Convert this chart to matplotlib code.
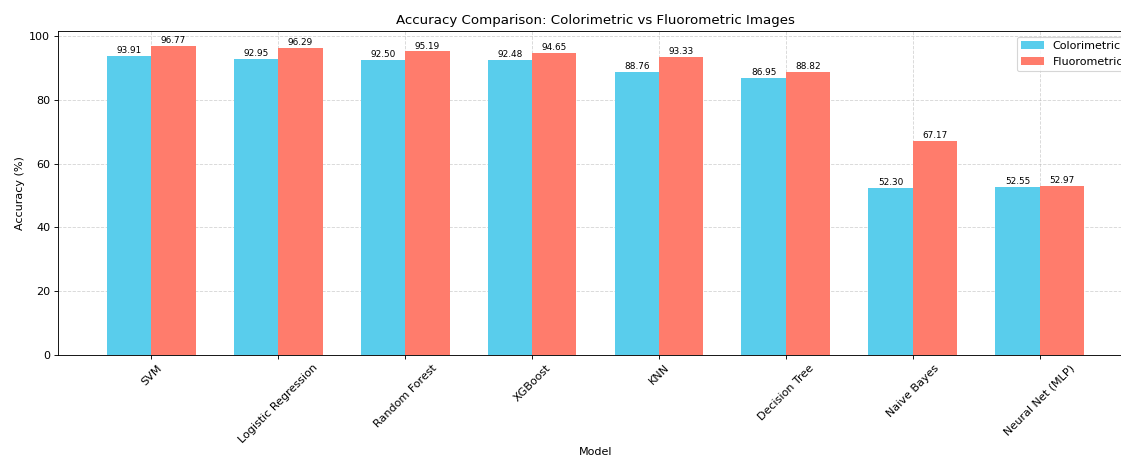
import numpy as np
import matplotlib.pyplot as plt

models = ['SVM', 'Logistic Regression', 'Random Forest', 'XGBoost', 'KNN',
          'Decision Tree', 'Naive Bayes', 'Neural Net (MLP)']
colorimetric = [93.91, 92.95, 92.50, 92.48, 88.76, 86.95, 52.30, 52.55]
fluorometric = [96.77, 96.29, 95.19, 94.65, 93.33, 88.82, 67.17, 52.97]

x = np.arange(len(models))
width = 0.35

fig = plt.figure(figsize=(1121 / 80, 457 / 80), dpi=80)
ax = fig.add_axes([58 / 1121, 1 - 355 / 457, (1133 - 58) / 1121, 324 / 457])

b1 = ax.bar(x - width / 2, colorimetric, width, label='Colorimetric', color='#59cdec')
b2 = ax.bar(x + width / 2, fluorometric, width, label='Fluorometric', color='#ff7c6c')

for bars in (b1, b2):
    for bar in bars:
        h = bar.get_height()
        ax.text(bar.get_x() + bar.get_width() / 2, h + 0.3, f'{h:.2f}',
                ha='center', va='bottom', fontsize=8)

ax.set_xticks(x)
ax.set_xticklabels(models, rotation=45)
ax.set_xlabel('Model', labelpad=1)
ax.set_ylabel('Accuracy (%)')
ax.set_title('Accuracy Comparison: Colorimetric vs Fluorometric Images')
ax.legend(loc='upper right')
ax.grid(True, linestyle='--', alpha=0.5)
ax.set_axisbelow(True)

fig.savefig('out.png', dpi=80)
